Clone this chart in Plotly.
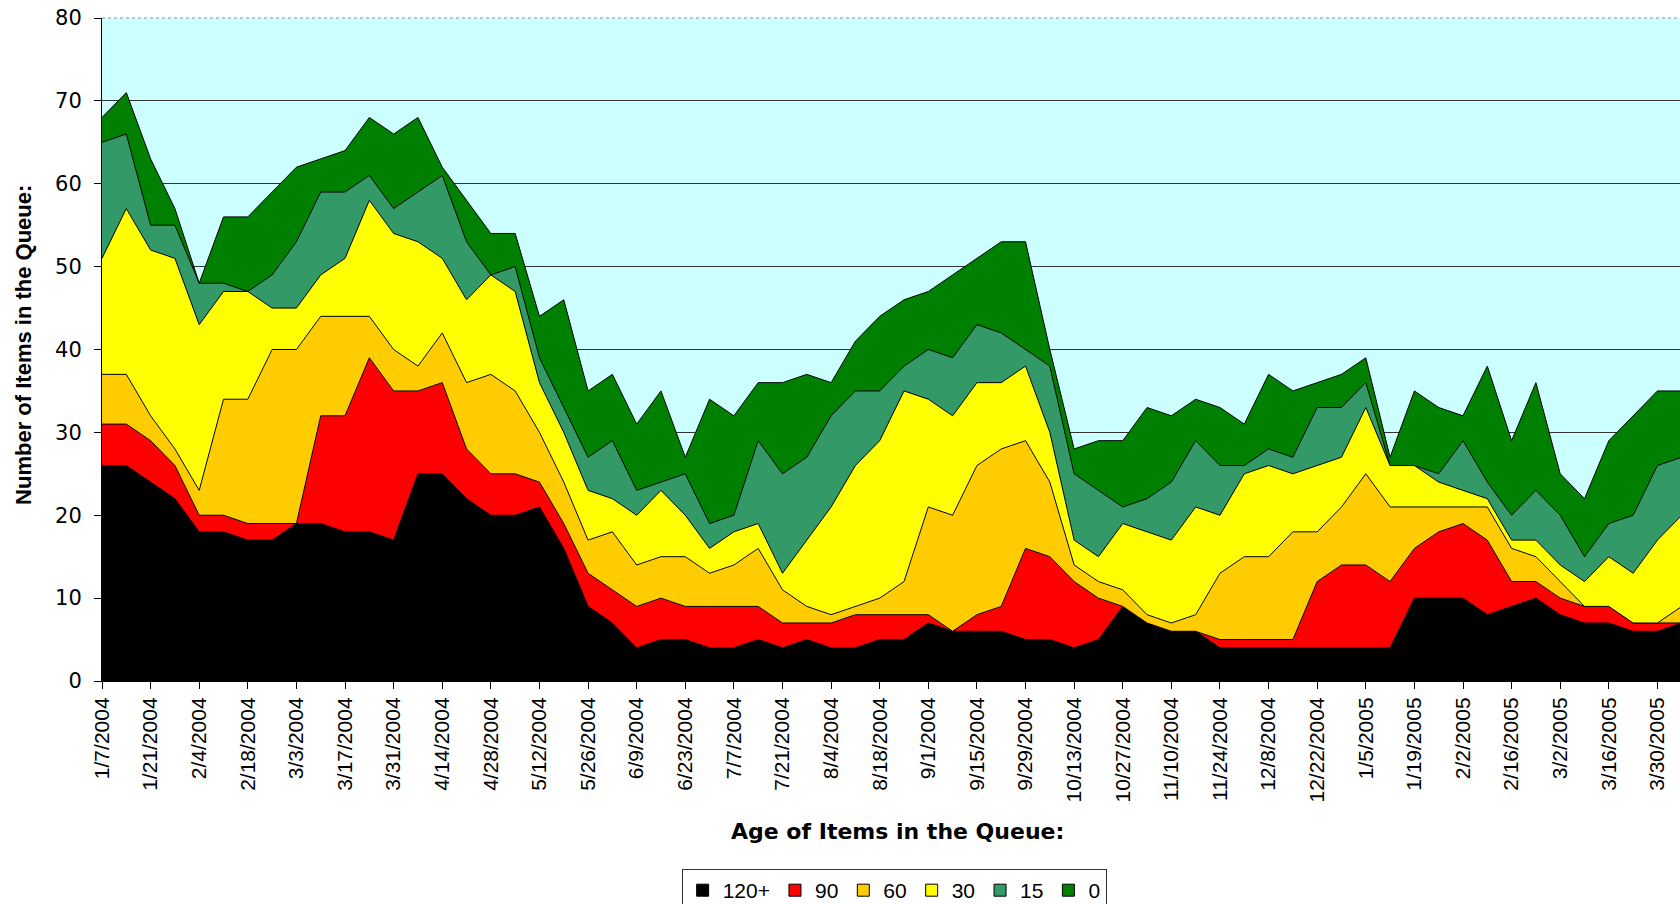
import plotly.graph_objects as go

# Weekly snapshot dates (categories)
dates = [
    "2004-01-07", "2004-01-14", "2004-01-21", "2004-01-28", "2004-02-04", "2004-02-11",
    "2004-02-18", "2004-02-25", "2004-03-03", "2004-03-10", "2004-03-17", "2004-03-24",
    "2004-03-31", "2004-04-07", "2004-04-14", "2004-04-21", "2004-04-28", "2004-05-05",
    "2004-05-12", "2004-05-19", "2004-05-26", "2004-06-02", "2004-06-09", "2004-06-16",
    "2004-06-23", "2004-06-30", "2004-07-07", "2004-07-14", "2004-07-21", "2004-07-28",
    "2004-08-04", "2004-08-11", "2004-08-18", "2004-08-25", "2004-09-01", "2004-09-08",
    "2004-09-15", "2004-09-22", "2004-09-29", "2004-10-06", "2004-10-13", "2004-10-20",
    "2004-10-27", "2004-11-03", "2004-11-10", "2004-11-17", "2004-11-24", "2004-12-01",
    "2004-12-08", "2004-12-15", "2004-12-22", "2004-12-29", "2005-01-05", "2005-01-12",
    "2005-01-19", "2005-01-26", "2005-02-02", "2005-02-09", "2005-02-16", "2005-02-23",
    "2005-03-02", "2005-03-09", "2005-03-16", "2005-03-23", "2005-03-30", "2005-04-06",
]

tick_labels = [
    "1/7/2004", "1/21/2004", "2/4/2004", "2/18/2004", "3/3/2004", "3/17/2004",
    "3/31/2004", "4/14/2004", "4/28/2004", "5/12/2004", "5/26/2004", "6/9/2004",
    "6/23/2004", "7/7/2004", "7/21/2004", "8/4/2004", "8/18/2004", "9/1/2004",
    "9/15/2004", "9/29/2004", "10/13/2004", "10/27/2004", "11/10/2004", "11/24/2004",
    "12/8/2004", "12/22/2004", "1/5/2005", "1/19/2005", "2/2/2005", "2/16/2005",
    "3/2/2005", "3/16/2005", "3/30/2005",
]

# Items in the queue per age bucket (days)
age_120 = [26, 26, 24, 22, 18, 18, 17, 17, 19, 19,
           18, 18, 17, 25, 25, 22, 20, 20, 21, 16,
           9, 7, 4, 5, 5, 4, 4, 5, 4, 5,
           4, 4, 5, 5, 7, 6, 6, 6, 5, 5,
           4, 5, 9, 7, 6, 6, 4, 4, 4, 4,
           4, 4, 4, 4, 10, 10, 10, 8, 9, 10,
           8, 7, 7, 6, 6, 7]
age_90 = [5, 5, 5, 4, 2, 2, 2, 2, 0, 13,
          14, 21, 18, 10, 11, 6, 5, 5, 3, 3,
          4, 4, 5, 5, 4, 5, 5, 4, 3, 2,
          3, 4, 3, 3, 1, 0, 2, 3, 11, 10,
          8, 5, 0, 0, 0, 0, 1, 1, 1, 1,
          8, 10, 10, 8, 6, 8, 9, 9, 3, 2,
          2, 2, 2, 1, 1, 0]
age_60 = [6, 6, 3, 2, 3, 14, 15, 21, 21, 12,
          12, 5, 5, 3, 6, 8, 12, 10, 6, 5,
          4, 7, 5, 5, 6, 4, 5, 7, 4, 2,
          1, 1, 2, 4, 13, 14, 18, 19, 13, 9,
          2, 2, 2, 1, 1, 2, 8, 10, 10, 13,
          6, 7, 11, 9, 5, 3, 2, 4, 4, 3,
          2, 0, 0, 0, 0, 2]
age_30 = [14, 20, 20, 23, 20, 13, 13, 5, 5, 5,
          7, 14, 14, 15, 9, 10, 12, 12, 6, 6,
          6, 4, 6, 8, 5, 3, 4, 3, 2, 8,
          13, 17, 19, 23, 13, 12, 10, 8, 9, 6,
          3, 3, 8, 10, 10, 13, 7, 10, 11, 7,
          8, 6, 8, 5, 5, 3, 2, 1, 1, 2,
          2, 3, 6, 6, 10, 11]
age_15 = [14, 9, 3, 4, 5, 1, 0, 4, 8, 10,
          8, 3, 3, 6, 10, 7, 0, 3, 3, 3,
          4, 7, 3, 1, 5, 3, 2, 10, 12, 10,
          11, 9, 6, 3, 6, 7, 7, 6, 2, 8,
          8, 8, 2, 4, 7, 8, 6, 1, 2, 2,
          7, 6, 3, 0, 0, 1, 6, 2, 3, 6,
          6, 3, 4, 7, 9, 7]
age_0 = [3, 5, 8, 2, 0, 8, 9, 10, 9, 4,
         5, 7, 9, 9, 1, 5, 5, 4, 5, 13,
         8, 8, 8, 11, 2, 15, 12, 7, 11, 10,
         4, 6, 9, 8, 7, 10, 8, 11, 13, 2,
         3, 6, 8, 11, 8, 5, 7, 5, 9, 8,
         3, 4, 3, 1, 9, 8, 3, 14, 9, 13,
         5, 7, 10, 12, 9, 8]

series_names = ["120+", "90", "60", "30", "15", "0"]
series_values = [age_120, age_90, age_60, age_30, age_15, age_0]
series_colors = ["#000000", "#FF0000", "#FFCC00", "#FFFF00", "#339966", "#008000"]

fig = go.Figure()

for name, vals, col in zip(series_names, series_values, series_colors):
    fig.add_trace(go.Scatter(
        x=dates, y=vals, name=name, mode="lines", stackgroup="queue",
        line=dict(color="#000000", width=1, shape="linear"),
        fillcolor=col, showlegend=False, hoverinfo="x+y+name",
    ))

# legend swatches (square keys like the original)
for name, col in zip(series_names, series_colors):
    fig.add_trace(go.Scatter(
        x=[None], y=[None], name=name, mode="markers",
        marker=dict(symbol="square", size=12, color=col,
                    line=dict(color="#000000", width=1)),
        showlegend=True,
    ))

arial = "Liberation Sans, Arial, sans-serif"
dejavu = "DejaVu Sans, sans-serif"

fig.update_layout(
    template="none",
    width=1680, height=904,
    margin=dict(l=102, r=0, t=18, b=223, autoexpand=False),
    paper_bgcolor="#FFFFFF",
    plot_bgcolor="#CCFFFF",
    showlegend=True,
    legend=dict(
        orientation="h", x=0.502, xanchor="center", y=-0.2836, yanchor="top",
        bgcolor="#FFFFFF", bordercolor="#333333", borderwidth=1,
        font=dict(family=arial, size=21, color="#000000"),
        traceorder="normal", itemwidth=30,
    ),
    xaxis=dict(
        type="date",
        range=["2004-01-07", "2005-04-05 12:00"],
        tickmode="array", tickvals=dates[::2], ticktext=tick_labels,
        tickangle=-90, ticks="outside", ticklen=7, tickcolor="#000000", tickwidth=1,
        tickfont=dict(family=arial, size=21, color="#000000"),
        showline=True, linecolor="#000000", linewidth=1,
        showgrid=False, zeroline=False, automargin=False,
    ),
    yaxis=dict(
        range=[0, 80], tickmode="array", tickvals=[0, 10, 20, 30, 40, 50, 60, 70, 80],
        ticks="outside", ticklen=7, tickcolor="#000000", tickwidth=1,
        tickfont=dict(family=dejavu, size=21, color="#000000"),
        ticklabelstandoff=8,
        showline=True, linecolor="#000000", linewidth=1,
        showgrid=False, zeroline=False, automargin=False,
        minor=dict(tickvals=[10, 20, 30, 40, 50, 60, 70], showgrid=True,
                   gridcolor="#333333", gridwidth=1, ticks=""),
    ),
    shapes=[dict(type="line", xref="paper", yref="paper", x0=0, x1=1, y0=1, y1=1,
                 line=dict(color="#8C8C8C", width=1, dash="dot"), layer="above")],
    annotations=[
        dict(text="<b>Number of Items in the Queue:</b>", xref="paper", yref="paper",
             x=-0.0494, y=0.507, xanchor="center", yanchor="middle", textangle=-90,
             showarrow=False, font=dict(family=arial, size=22, color="#000000")),
        dict(text="<b>Age of Items in the Queue:</b>", xref="paper", yref="paper",
             x=0.5044, y=-0.227, xanchor="center", yanchor="middle",
             showarrow=False, font=dict(family=dejavu, size=22, color="#000000")),
    ],
)

fig.write_html("out.html", config={"displayModeBar": False},
               post_script="document.body.style.margin='0px';")
